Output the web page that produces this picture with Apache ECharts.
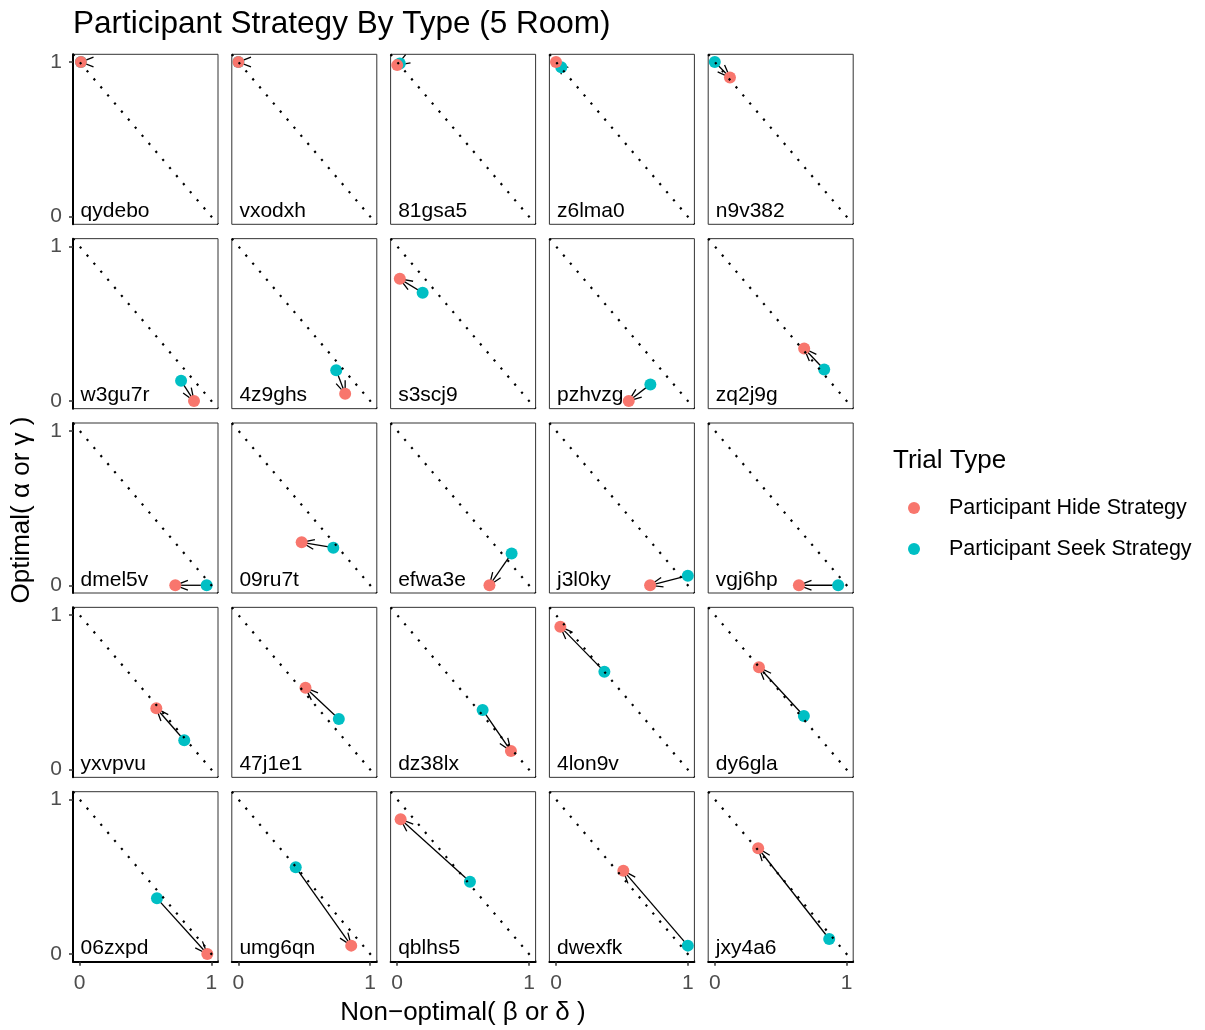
<!DOCTYPE html>
<html>
<head>
<meta charset="utf-8">
<title>Participant Strategy By Type (5 Room)</title>
<script src="https://cdn.jsdelivr.net/npm/echarts@6/dist/echarts.min.js"></script>
<style>
  html, body { margin: 0; padding: 0; background: #fff; }
  #chart { width: 1205px; height: 1030px; }
</style>
</head>
<body>
<div id="chart"></div>
<script>
// participant panels, in facet order (row by row)
const participants = ['qydebo', 'vxodxh', '81gsa5', 'z6lma0', 'n9v382',
  'w3gu7r', '4z9ghs', 's3scj9', 'pzhvzg', 'zq2j9g',
  'dmel5v', '09ru7t', 'efwa3e', 'j3l0ky', 'vgj6hp',
  'yxvpvu', '47j1e1', 'dz38lx', '4lon9v', 'dy6gla',
  '06zxpd', 'umg6qn', 'qblhs5', 'dwexfk', 'jxy4a6'];

// hide strategy (non-optimal, optimal)
const hideX = [0.01, 0.00, 0.00, 0.00, 0.115,
  0.868, 0.81, 0.02, 0.552, 0.678,
  0.726, 0.48, 0.70, 0.714, 0.638,
  0.582, 0.509, 0.863, 0.033, 0.335,
  0.969, 0.856, 0.026, 0.511, 0.329];
const hideY = [1.00, 1.00, 0.98, 1.00, 0.90,
  0.00, 0.047, 0.79, 0.00, 0.339,
  0.00, 0.278, 0.00, 0.00, 0.00,
  0.397, 0.53, 0.12, 0.925, 0.662,
  0.00, 0.054, 0.872, 0.539, 0.684];

// seek strategy (non-optimal, optimal)
const seekX = [0.01, 0.00, 0.02, 0.04, 0.00,
  0.77, 0.742, 0.193, 0.716, 0.83,
  0.964, 0.72, 0.868, 1.00, 0.936,
  0.794, 0.762, 0.648, 0.367, 0.676,
  0.587, 0.435, 0.552, 1.00, 0.868];
const seekY = [1.00, 1.00, 0.99, 0.966, 1.00,
  0.13, 0.198, 0.70, 0.107, 0.203,
  0.00, 0.243, 0.206, 0.062, 0.00,
  0.19, 0.327, 0.386, 0.634, 0.347,
  0.36, 0.561, 0.468, 0.054, 0.097];

const trialTypes = ['Participant Hide Strategy', 'Participant Seek Strategy'];
const typeColors = ['#F8766D', '#00BFC4'];
const tickValues = [0, 1];
const axisRange = [-0.05, 1.05];
const refIntercept = 1, refSlope = -1;   // y = 1 - x

const FONT = '"Liberation Sans", Arial, Helvetica, sans-serif';
const nCol = 5;
const panelLeft = 73, panelTop = 54.3, panelW = 145, panelH = 170;
const stepX = 158.8, stepY = 184.35;

const chart = echarts.init(document.getElementById('chart'), null, { renderer: 'canvas' });

const grids = [], xAxes = [], yAxes = [], series = [];

participants.forEach((id, i) => {
  const r = Math.floor(i / nCol), c = i % nCol;
  const isLeft = c === 0, isBottom = r === Math.floor((participants.length - 1) / nCol);

  grids.push({
    left: panelLeft + c * stepX,
    top: panelTop + r * stepY,
    width: panelW,
    height: panelH,
    show: true,
    borderColor: '#333',
    borderWidth: 1,
    backgroundColor: '#fff',
    containLabel: false,
    outerBoundsMode: 'none'
  });

  xAxes.push({
    gridIndex: i, type: 'value', min: axisRange[0], max: axisRange[1],
    axisLine: { show: isBottom, onZero: false, lineStyle: { color: '#000', width: 2 } },
    axisTick: { show: isBottom, customValues: tickValues, length: 4, lineStyle: { color: '#333', width: 1.5 } },
    axisLabel: { show: isBottom, customValues: tickValues, margin: 11, color: '#4d4d4d', fontSize: 21, fontFamily: FONT },
    splitLine: { show: false }
  });
  yAxes.push({
    gridIndex: i, type: 'value', min: axisRange[0], max: axisRange[1],
    axisLine: { show: isLeft, onZero: false, lineStyle: { color: '#000', width: 2 } },
    axisTick: { show: isLeft, customValues: tickValues, length: 4, lineStyle: { color: '#333', width: 1.5 } },
    axisLabel: { show: isLeft, customValues: tickValues, margin: 11, color: '#4d4d4d', fontSize: 21, fontFamily: FONT },
    splitLine: { show: false }
  });

  // participant id label
  series.push({
    type: 'custom', xAxisIndex: i, yAxisIndex: i, silent: true,
    data: [[0, 0]],
    renderItem: (params, api) => {
      const p = api.coord([api.value(0), api.value(1)]);
      return {
        type: 'text',
        style: { text: id, x: p[0] + 1, y: p[1] + 5, fill: '#000', font: '21px ' + FONT, align: 'left', verticalAlign: 'bottom' }
      };
    }
  });

  // dotted reference line
  series.push({
    type: 'line', xAxisIndex: i, yAxisIndex: i, silent: true, symbol: 'none',
    data: axisRange.map(x => [x, refIntercept + refSlope * x]),
    lineStyle: { color: '#000', width: 2.2, type: [2.2, 8.4] }
  });

  series.push({
    type: 'scatter', name: trialTypes[1], xAxisIndex: i, yAxisIndex: i,
    data: [[seekX[i], seekY[i]]], symbolSize: 12,
    itemStyle: { color: typeColors[1], opacity: 1 }
  });
  series.push({
    type: 'scatter', name: trialTypes[0], xAxisIndex: i, yAxisIndex: i,
    data: [[hideX[i], hideY[i]]], symbolSize: 12,
    itemStyle: { color: typeColors[0], opacity: 1 }
  });

  // arrow from seek to hide
  series.push({
    type: 'custom', xAxisIndex: i, yAxisIndex: i, silent: true,
    data: [[seekX[i], seekY[i], hideX[i], hideY[i]]],
    encode: { x: [0, 2], y: [1, 3] },
    renderItem: (params, api) => {
      const s = api.coord([api.value(0), api.value(1)]);
      const h = api.coord([api.value(2), api.value(3)]);
      const dx = h[0] - s[0], dy = h[1] - s[1];
      const len = Math.hypot(dx, dy);
      let ux = -1, uy = 0;
      if (len > 0.5) { ux = dx / len; uy = dy / len; }
      const a = 21 * Math.PI / 180, L = 13.5;
      const bx = -ux, by = -uy;
      const w1 = [h[0] + L * (bx * Math.cos(a) - by * Math.sin(a)), h[1] + L * (bx * Math.sin(a) + by * Math.cos(a))];
      const w2 = [h[0] + L * (bx * Math.cos(a) + by * Math.sin(a)), h[1] + L * (-bx * Math.sin(a) + by * Math.cos(a))];
      return {
        type: 'group',
        children: [
          { type: 'line', shape: { x1: s[0], y1: s[1], x2: h[0], y2: h[1] }, style: { stroke: '#000', lineWidth: 1.3 } },
          { type: 'polyline', shape: { points: [w1, h, w2] }, style: { stroke: '#000', fill: null, lineWidth: 1.3 } }
        ]
      };
    }
  });
});

const option = {
  animation: false,
  backgroundColor: '#fff',
  title: [
    { text: 'Participant Strategy By Type (5 Room)', left: 73, top: 8, padding: 0,
      textStyle: { fontSize: 31.5, fontWeight: 'normal', color: '#000', fontFamily: FONT } },
    { text: 'Trial Type', left: 893, top: 448, padding: 0,
      textStyle: { fontSize: 26, fontWeight: 'normal', color: '#000', fontFamily: FONT } }
  ],
  legend: {
    data: trialTypes,
    orient: 'vertical',
    left: 908, top: 496, padding: 0,
    itemWidth: 12, itemHeight: 12, itemGap: 17,
    icon: 'circle',
    selectedMode: false,
    textStyle: { fontSize: 21.5, color: '#000', fontFamily: FONT, lineHeight: 24, padding: [0, 0, 0, 24] }
  },
  graphic: [
    { type: 'text', x: 22, y: 510, rotation: Math.PI / 2,
      style: { text: 'Optimal( α or γ )', fill: '#000', font: '26px ' + FONT, align: 'center', verticalAlign: 'middle' } },
    { type: 'text', x: 463, y: 1013,
      style: { text: 'Non−optimal( β or δ )', fill: '#000', font: '26px ' + FONT, align: 'center', verticalAlign: 'middle' } }
  ],
  grid: grids,
  xAxis: xAxes,
  yAxis: yAxes,
  series: series
};

chart.setOption(option);
</script>
</body>
</html>
